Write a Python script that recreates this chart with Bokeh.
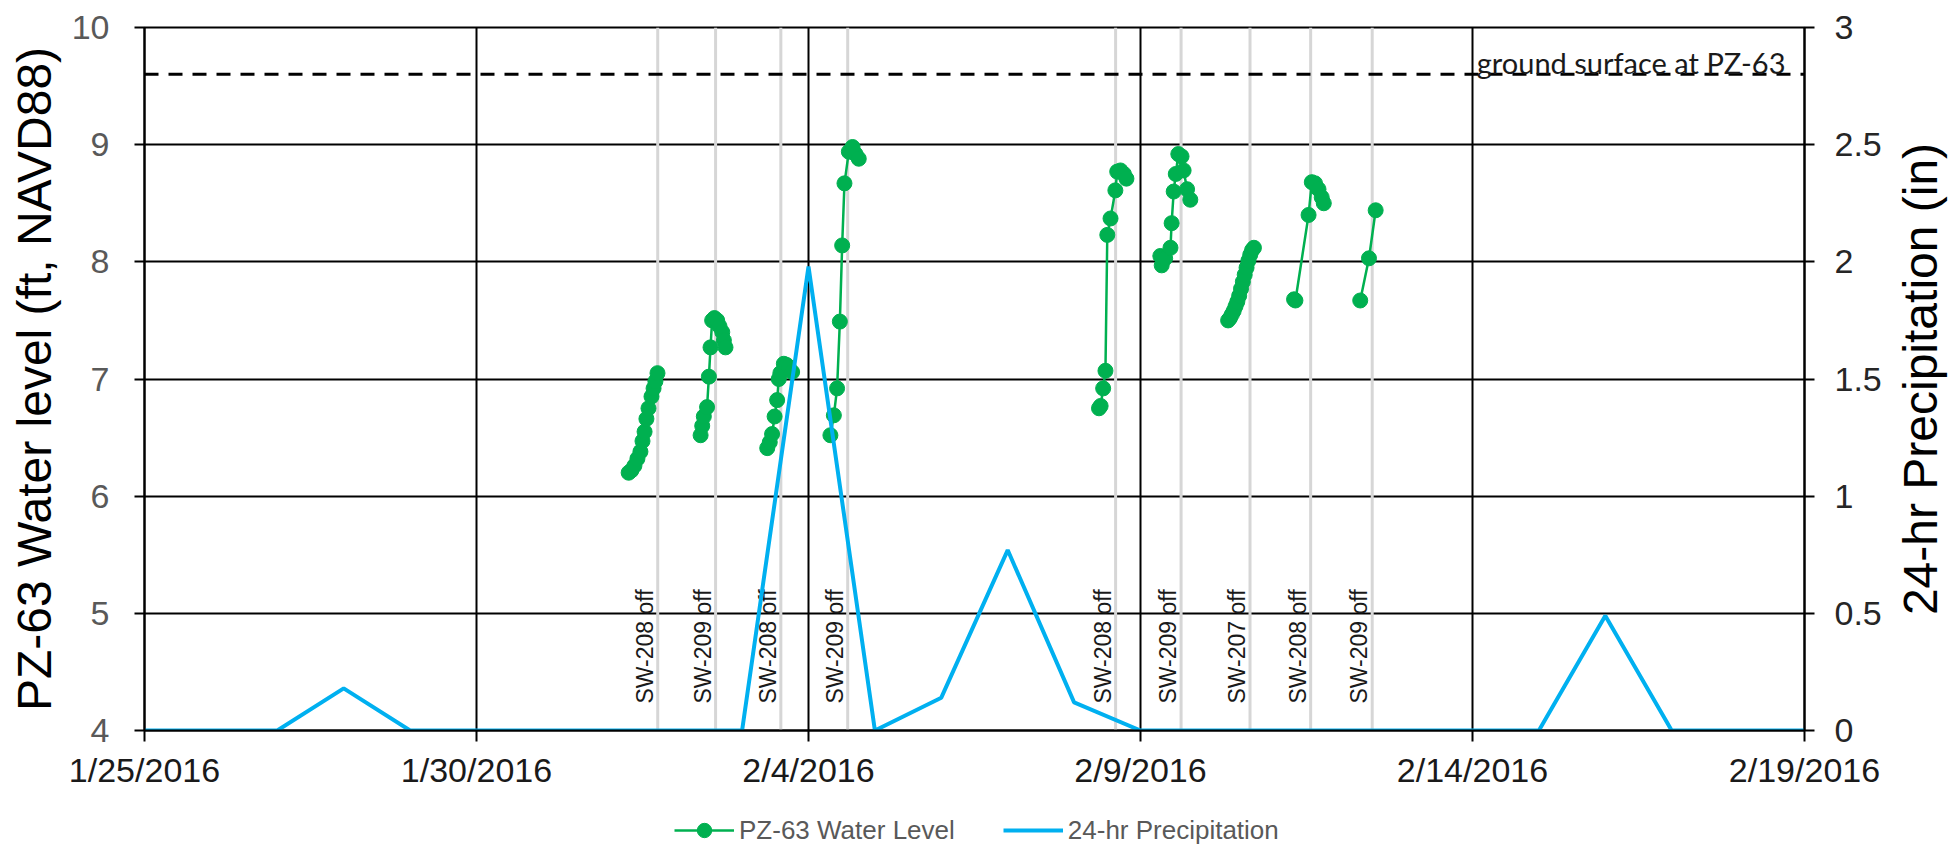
import math
import numpy as np
import pandas as pd
from bokeh.plotting import figure
from bokeh.layouts import row, column
from bokeh.models import Range1d, LinearAxis, FixedTicker, Legend, LegendItem
from bokeh.core.properties import value
from bokeh.embed import file_html
from bokeh.resources import INLINE

# ---------------- data ----------------
x_tick_dates = ["2016-01-25", "2016-01-30", "2016-02-04", "2016-02-09", "2016-02-14", "2016-02-19"]
x_tick_labels = ["1/25/2016", "1/30/2016", "2/4/2016", "2/9/2016", "2/14/2016", "2/19/2016"]
left_ticks = [4, 5, 6, 7, 8, 9, 10]
right_ticks = [0.0, 0.5, 1.0, 1.5, 2.0, 2.5, 3.0]
right_tick_labels = ["0", "0.5", "1", "1.5", "2", "2.5", "3"]

precip_dates = ["2016-01-25", "2016-01-26", "2016-01-27", "2016-01-28", "2016-01-29",
                "2016-01-30", "2016-01-31", "2016-02-01", "2016-02-02", "2016-02-03",
                "2016-02-04", "2016-02-05", "2016-02-06", "2016-02-07", "2016-02-08",
                "2016-02-09", "2016-02-10", "2016-02-11", "2016-02-12", "2016-02-13",
                "2016-02-14", "2016-02-15", "2016-02-16", "2016-02-17", "2016-02-18",
                "2016-02-19"]
precip_in = [0, 0, 0, 0.18, 0, 0, 0, 0, 0, 0,
             1.98, 0, 0.14, 0.77, 0.12, 0, 0, 0, 0, 0,
             0, 0, 0.49, 0, 0, 0]

# PZ-63 water level, one list per monitoring day (gaps between days are not joined)
wl_days = ["2016-02-01", "2016-02-02", "2016-02-03", "2016-02-04", "2016-02-08",
           "2016-02-09", "2016-02-10", "2016-02-11", "2016-02-12"]
wl_times = [
    ["07:00", "08:00", "09:05", "10:10", "11:15", "12:00", "12:45", "13:25", "14:10", "15:15", "16:00", "16:40", "17:25"],
    ["09:00", "09:35", "10:10", "11:20", "12:00", "12:35", "13:10", "14:00", "15:00", "15:50", "16:50", "17:25", "18:00"],
    ["09:05", "10:00", "10:50", "11:45", "12:40", "13:15", "13:50", "15:05", "16:05", "16:50", "18:05"],
    ["07:55", "09:10", "10:20", "11:20", "12:10", "13:00", "14:35", "15:55", "17:00", "18:10"],
    ["09:00", "09:35", "10:30", "11:20", "12:00", "13:10", "14:55", "15:35", "16:45", "18:00", "18:55"],
    ["07:10", "07:40", "08:55", "10:50", "11:15", "12:00", "12:45", "13:40", "14:50", "15:35", "16:50", "18:00"],
    ["07:40", "08:20", "09:00", "09:40", "10:20", "11:00", "11:40", "12:20", "13:00", "13:40", "14:20", "15:00", "15:40", "16:20", "17:00"],
    ["07:30", "08:00", "12:45", "13:55", "15:05", "16:20", "17:30", "18:15"],
    ["07:25", "10:35", "13:00"],
]
wl_values = [
    [6.20, 6.22, 6.26, 6.32, 6.38, 6.47, 6.55, 6.66, 6.75, 6.85, 6.92, 6.98, 7.05],
    [6.52, 6.60, 6.68, 6.76, 7.02, 7.27, 7.50, 7.52, 7.50, 7.45, 7.40, 7.33, 7.27],
    [6.41, 6.46, 6.53, 6.68, 6.82, 7.00, 7.05, 7.13, 7.12, 7.10, 7.06],
    [6.52, 6.69, 6.92, 7.49, 8.14, 8.67, 8.94, 8.98, 8.92, 8.88],
    [6.75, 6.77, 6.92, 7.07, 8.23, 8.37, 8.61, 8.77, 8.78, 8.75, 8.71],
    [8.05, 7.97, 8.03, 8.12, 8.33, 8.60, 8.75, 8.92, 8.90, 8.78, 8.62, 8.53],
    [7.50, 7.52, 7.55, 7.58, 7.62, 7.66, 7.71, 7.77, 7.83, 7.89, 7.95, 8.01, 8.06, 8.10, 8.12],
    [7.68, 7.67, 8.40, 8.68, 8.67, 8.62, 8.55, 8.50],
    [7.67, 8.03, 8.44],
]

sw_times = ["2016-02-01 17:30", "2016-02-02 14:25", "2016-02-03 14:00", "2016-02-04 14:10",
            "2016-02-08 15:00", "2016-02-09 14:40", "2016-02-10 15:35", "2016-02-11 13:30",
            "2016-02-12 11:45"]
sw_wells = ["SW-208", "SW-209", "SW-208", "SW-209", "SW-208", "SW-209", "SW-207", "SW-208", "SW-209"]

ground_surface = 9.6
ground_label = "ground surface at PZ-63"
left_title = "PZ-63 Water level (ft, NAVD88)"
right_title = "24-hr Precipitation (in)"
legend_labels = ["PZ-63 Water Level", "24-hr Precipitation"]

# ---------------- helpers ----------------
def to_ms(s):
    return pd.Timestamp(s).value // 10**6

x_start, x_end = to_ms(x_tick_dates[0]), to_ms(x_tick_dates[-1])
y_lo, y_hi = left_ticks[0], left_ticks[-1]

wl_x_line, wl_y_line, wl_x_pts, wl_y_pts = [], [], [], []
for day, times, vals in zip(wl_days, wl_times, wl_values):
    xs = [to_ms(day + " " + t) for t in times]
    wl_x_line += xs + [np.nan]
    wl_y_line += vals + [np.nan]
    wl_x_pts += xs
    wl_y_pts += vals

precip_x = [to_ms(d) for d in precip_dates]
sw_x = [to_ms(t) for t in sw_times]
sw_text = [w + " off" for w in sw_wells]

FONT = "Liberation Sans"
GREEN = "#00b050"
BLUE = "#00b0f0"
TOP = 27
BOTTOM = 62
H = TOP + 703 + BOTTOM
LEG_H = 58

# ---------------- main figure ----------------
p = figure(width=1888, height=H,
           x_range=Range1d(x_start, x_end), y_range=Range1d(y_lo, y_hi),
           output_backend="svg", toolbar_location=None,
           min_border_left=144, min_border_right=84, min_border_top=TOP, min_border_bottom=BOTTOM,
           background_fill_color="white", border_fill_color="white")
p.extra_y_ranges = {"precip": Range1d(right_ticks[0], right_ticks[-1])}
p.outline_line_color = "black"
p.outline_line_width = 2

x_ticks = [to_ms(d) for d in x_tick_dates]
xt = FixedTicker(ticks=x_ticks)
p.xaxis[0].ticker = xt
p.xgrid[0].ticker = xt
p.xaxis[0].major_label_overrides = {t: l for t, l in zip(x_ticks, x_tick_labels)}
yt = FixedTicker(ticks=left_ticks)
p.yaxis[0].ticker = yt
p.ygrid[0].ticker = yt

for g in (p.xgrid[0], p.ygrid[0]):
    g.grid_line_color = "black"
    g.grid_line_width = 2

right = LinearAxis(y_range_name="precip", ticker=FixedTicker(ticks=right_ticks))
right.major_label_overrides = {t: l for t, l in zip(right_ticks, right_tick_labels)}
p.add_layout(right, "right")

xa, ya = p.xaxis[0], p.yaxis[0]
for ax in (xa, ya, right):
    ax.axis_line_color = "black"
    ax.axis_line_width = 2
    ax.major_tick_line_color = "black"
    ax.major_tick_line_width = 2
    ax.minor_tick_line_color = None
    ax.major_tick_in = 0
    ax.major_tick_out = 10
    ax.major_label_text_font = FONT
    ax.major_label_text_font_size = "34px"
    ax.axis_label_text_font = FONT
    ax.axis_label_text_font_style = "normal"
    ax.axis_label_text_font_size = "48px"
    ax.axis_label_text_color = "black"

xa.major_tick_out = 11
xa.major_label_standoff = 9
xa.major_label_text_color = "#1a1a1a"

ya.major_label_standoff = 25
ya.major_label_text_color = "#595959"
ya.axis_label = left_title
ya.axis_label_standoff = 8

right.major_label_standoff = 20
right.major_label_text_color = "#262626"

# ---------------- glyphs ----------------
p.segment(x0=sw_x, y0=[y_lo] * len(sw_x), x1=sw_x, y1=[y_hi] * len(sw_x),
          line_color="#d6d6d6", line_width=3)
p.text(x=sw_x, y=[4.23] * len(sw_x), text=sw_text, angle=math.pi / 2,
       text_align="left", text_baseline="middle", x_offset=-13,
       text_font=value(FONT), text_font_size="23px", text_color="#1a1a1a")

p.line(x=[x_start, x_end], y=[ground_surface, ground_surface],
       line_color="black", line_width=3, line_dash="14 10")
p.text(x=[x_end], y=[ground_surface], text=[ground_label],
       text_align="right", text_baseline="bottom", x_offset=-19, y_offset=6,
       text_font=value("Lato"), text_font_size="29px", text_color="#1a1a1a")

p.line(x=wl_x_line, y=wl_y_line, line_color=GREEN, line_width=2.5)
p.scatter(x=wl_x_pts, y=wl_y_pts, size=15, fill_color=GREEN, line_color=GREEN)

p.line(x=precip_x, y=precip_in, y_range_name="precip", line_color=BLUE, line_width=4)

# ---------------- right-hand axis title (reads bottom to top) ----------------
t = figure(width=64, height=H, x_range=Range1d(0, 1), y_range=Range1d(y_lo, y_hi),
           output_backend="svg", toolbar_location=None,
           x_axis_location=None, y_axis_location=None,
           min_border_left=0, min_border_right=0, min_border_top=TOP, min_border_bottom=BOTTOM,
           background_fill_color="white", border_fill_color="white")
t.outline_line_color = None
t.grid.visible = False
t.text(x=[0.5], y=[(y_lo + y_hi) / 2], text=[right_title], angle=math.pi / 2,
       text_align="center", text_baseline="middle",
       text_font=value(FONT), text_font_size="48px", text_color="black")

# ---------------- legend strip below the chart ----------------
lg = figure(width=1952, height=LEG_H, x_range=Range1d(0, 1), y_range=Range1d(0, 1),
            output_backend="svg", toolbar_location=None,
            x_axis_location=None, y_axis_location=None,
            min_border_left=0, min_border_right=0, min_border_top=0, min_border_bottom=0,
            background_fill_color="white", border_fill_color="white")
lg.outline_line_color = None
lg.grid.visible = False
# legend keys only (a single missing value, so nothing is drawn in the strip itself)
lk_line = lg.line(x=[np.nan], y=[np.nan], line_color=GREEN, line_width=2.5)
lk_pts = lg.scatter(x=[np.nan], y=[np.nan], size=15, fill_color=GREEN, line_color=GREEN)
lk_rain = lg.line(x=[np.nan], y=[np.nan], line_color=BLUE, line_width=4)
legend = Legend(items=[LegendItem(label=legend_labels[0], renderers=[lk_line, lk_pts]),
                       LegendItem(label=legend_labels[1], renderers=[lk_rain])],
                location=(674, 2), orientation="horizontal",
                background_fill_alpha=0, border_line_color=None,
                label_text_font=FONT, label_text_font_size="26px", label_text_color="#595959",
                glyph_width=60, glyph_height=36, label_standoff=5, spacing=48,
                padding=0, margin=0)
lg.add_layout(legend)

layout = column(row(p, t), lg)
open("out.html", "w").write(file_html(layout, INLINE))
